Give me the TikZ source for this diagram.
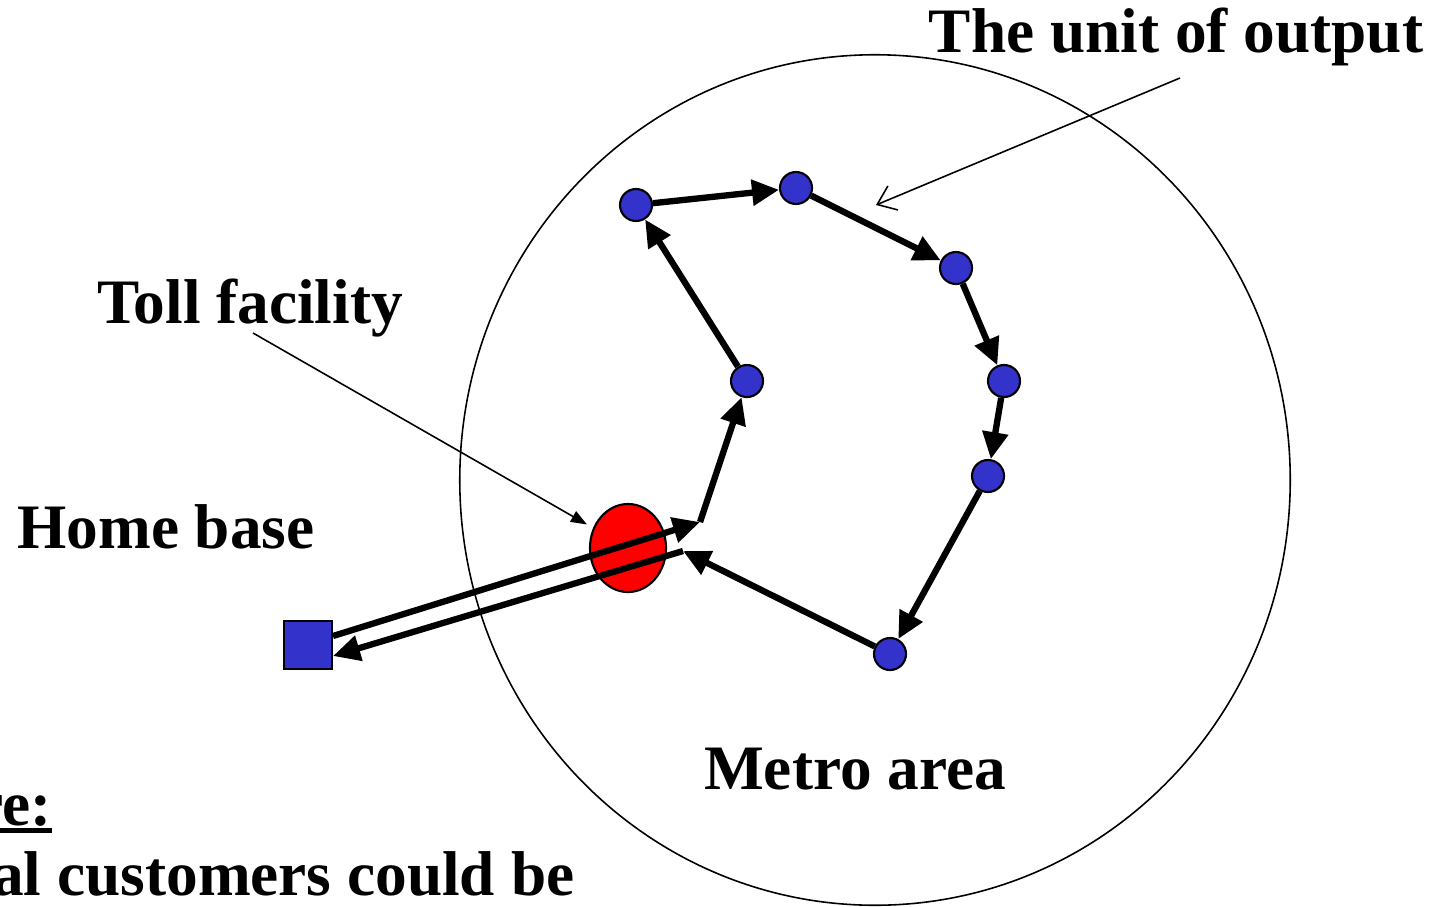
\documentclass[tikz,border=0pt]{standalone}
\usepackage{fontspec}
\setmainfont{Liberation Serif}
\usetikzlibrary{arrows.meta, shapes.geometric, positioning}
\definecolor{stopblue}{RGB}{51,51,204}

\begin{document}
\begin{tikzpicture}[
  x=0.01cm, y=-0.01cm,
  stopdot/.style = {circle, draw, line width=0.6pt, fill=stopblue,
    minimum size=0.32cm, inner sep=0pt},
  depot/.style   = {rectangle, draw, line width=0.7pt, fill=stopblue,
    minimum size=0.48cm, inner sep=0pt},
  gate/.style    = {ellipse, draw, line width=0.6pt, fill=red,
    minimum width=0.76cm, minimum height=0.88cm, inner sep=0pt},
  metro/.style   = {ellipse, draw, line width=0.45pt,
    minimum width=8.3cm, minimum height=8.5cm, inner sep=0pt},
  bigtext/.style = {font=\fontsize{18}{21}\selectfont\bfseries, inner sep=0pt},
  route/.style   = {-{Triangle[length=0.27cm, width=0.25cm]}, line width=1.8pt},
  pointer/.style = {-{Triangle[length=0.16cm, width=0.12cm]}, line width=0.45pt},
  openptr/.style = {-{Straight Barb[length=0.17cm, width=0.26cm]}, line width=0.45pt},
]
\clip (0,0) rectangle (1443,906);

% metro area
\node[metro] (metro) at (875,480) {};

% stops and home base
\node[gate]    (gate)   at (628,548) {};
\node[depot]   (depot)  at (308,645) {};
\node[stopdot] (stop-a) at (747,381) {};
\node[stopdot] (stop-b) at (636,205) {};
\node[stopdot] (stop-c) at (796,188) {};
\node[stopdot] (stop-d) at (956,268) {};
\node[stopdot] (stop-e) at (1004,381) {};
\node[stopdot] (stop-f) at (988,476) {};
\node[stopdot] (stop-g) at (890,654) {};

% turning points
\coordinate (depot-out) at (333,636);
\coordinate (depot-in)  at (333,656);
\coordinate (gate-in)   at (700,522);
\coordinate (gate-out)  at (683,551);

% route arrows
\draw[route] (depot-out) -- (gate-in);
\draw[route] (gate-in) -- (stop-a);
\draw[route] (stop-a) -- (stop-b);
\draw[route] (stop-b) -- (stop-c);
\draw[route] (stop-c) -- (stop-d);
\draw[route] (stop-d) -- (stop-e);
\draw[route] (stop-e) -- (stop-f);
\draw[route] (stop-f) -- (stop-g);
\draw[route] (stop-g) -- (gate-out);
\draw[route] (gate-out) -- (depot-in);

% labels
\node[bigtext, anchor=base] (unit)        at (1176,52)  {The unit of output};
\node[bigtext, anchor=base] (toll)        at (250,323)  {Toll facility};
\node[bigtext, anchor=base] (home-label)  at (166,548)  {Home base};
\node[bigtext, anchor=base] (metro-label) at (855,789)  {Metro area};
\node[bigtext, anchor=base east] (note-head) at (52,825)  {re:};
\node[bigtext, anchor=base east] (note-body) at (575,895) {al customers could be};
\draw[line width=1.6pt] ([yshift=-1.6pt]note-head.base west)
  -- ([yshift=-1.6pt]note-head.base east);

% pointers
\coordinate (toll-tail) at (253,333);
\coordinate (unit-tail) at (1180,78);
\coordinate (unit-tip)  at (876,205);
\draw[pointer, shorten >=2pt] (toll-tail) -- (gate);
\draw[openptr] (unit-tail) -- (unit-tip);

\end{tikzpicture}
\end{document}
